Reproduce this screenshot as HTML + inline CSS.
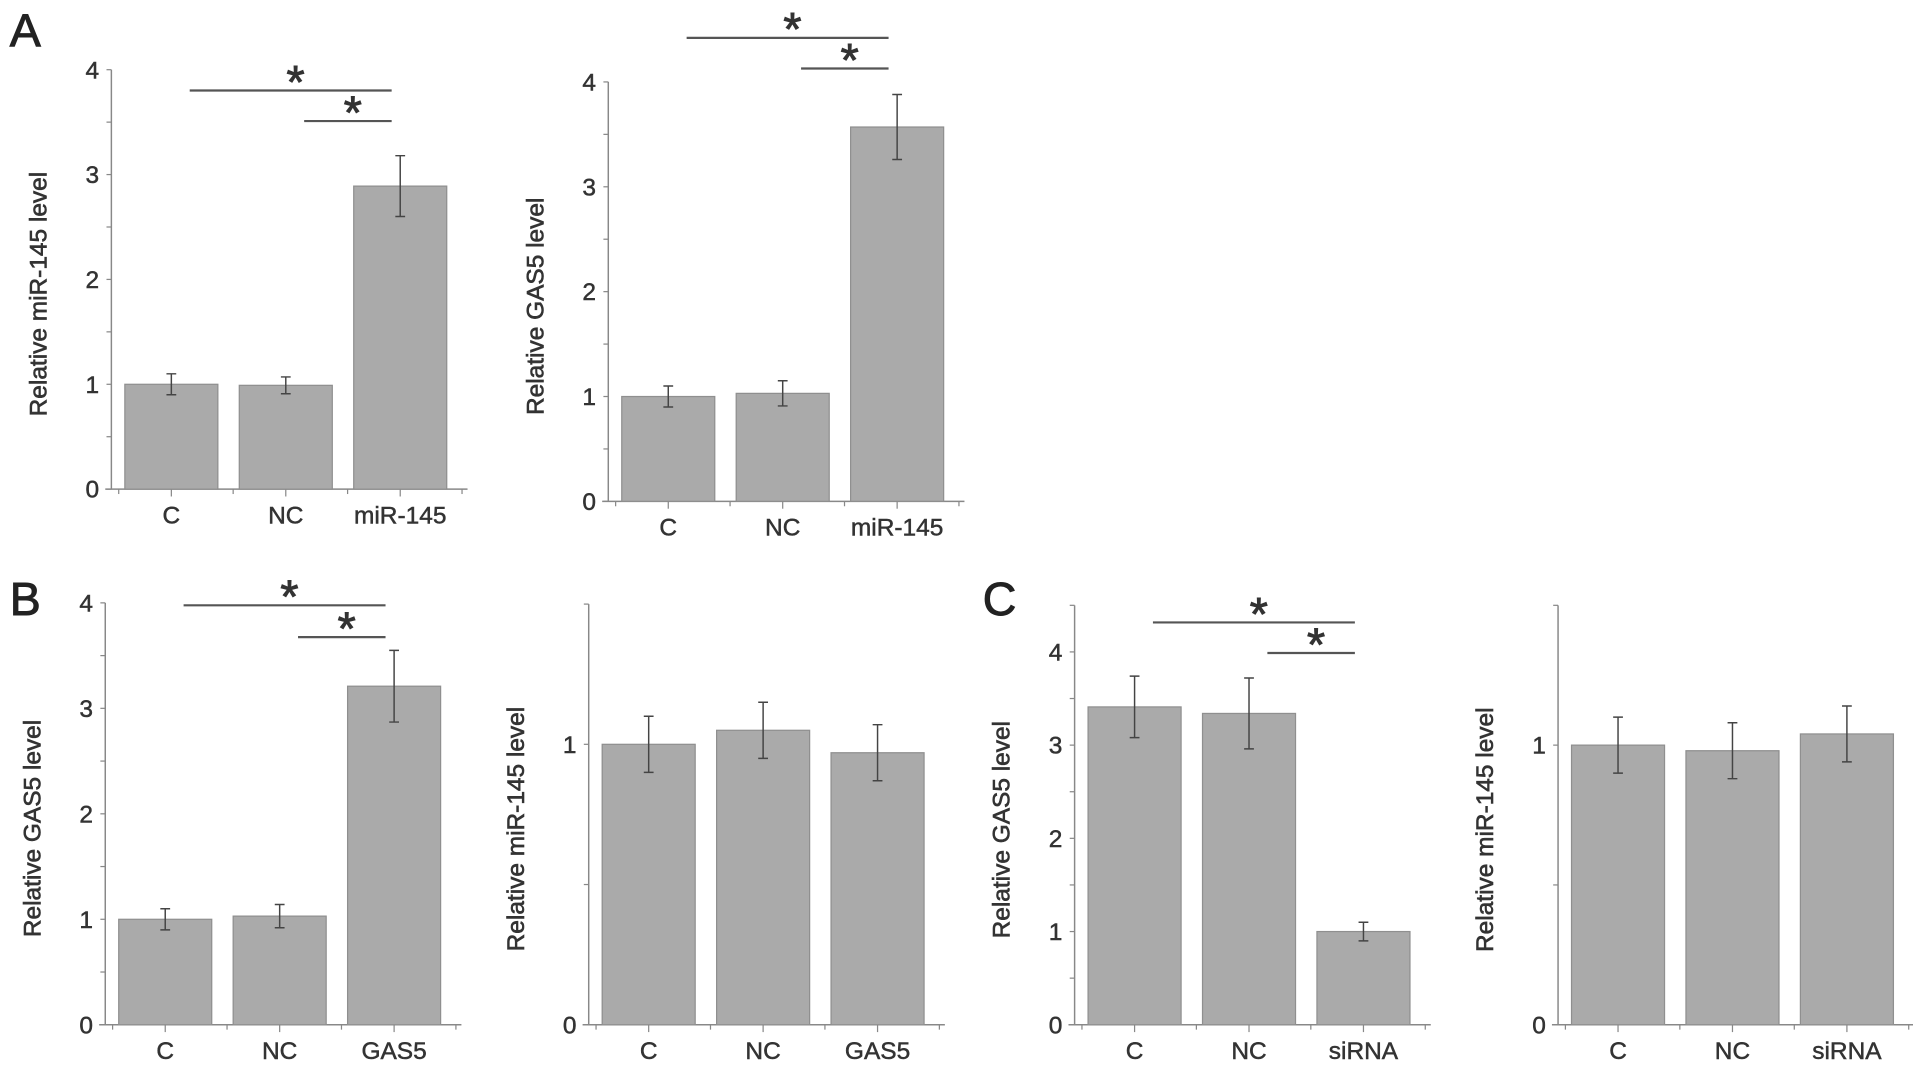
<!DOCTYPE html>
<html><head><meta charset="utf-8">
<style>
html,body{margin:0;padding:0;background:#fff;}
svg{display:block;}
text{font-family:"Liberation Sans",Arial,sans-serif;}
</style></head>
<body>
<svg id="fig" width="1913" height="1070" viewBox="0 0 1563 875" preserveAspectRatio="none" xmlns="http://www.w3.org/2000/svg">
<text x="8" y="38" font-size="38" fill="#222" stroke="#222" stroke-width="0.8">A</text>
<text x="8" y="503" font-size="38" fill="#222" stroke="#222" stroke-width="0.8">B</text>
<text x="803" y="503" font-size="38" fill="#222" stroke="#222" stroke-width="0.8">C</text>
</svg>
<script>
// ---- data ----
const catsA1 = ["C","NC","miR-145"];
const valsA1 = [1.0, 0.99, 2.89];
const errsA1 = [0.10, 0.08, 0.29];
const catsA2 = ["C","NC","miR-145"];
const valsA2 = [1.0, 1.03, 3.57];
const errsA2 = [0.10, 0.12, 0.31];
const catsB1 = ["C","NC","GAS5"];
const valsB1 = [1.0, 1.03, 3.21];
const errsB1 = [0.10, 0.11, 0.34];
const catsB2 = ["C","NC","GAS5"];
const valsB2 = [1.0, 1.05, 0.97];
const errsB2 = [0.10, 0.10, 0.10];
const catsC1 = ["C","NC","siRNA"];
const valsC1 = [3.41, 3.34, 1.0];
const errsC1 = [0.33, 0.38, 0.10];
const catsC2 = ["C","NC","siRNA"];
const valsC2 = [1.0, 0.98, 1.04];
const errsC2 = [0.10, 0.10, 0.10];
const ticks4 = [0,1,2,3,4];
const ticks01 = [0,1];

const NS="http://www.w3.org/2000/svg";
const svg=document.getElementById('fig');
function mk(tag,attrs,parent){const e=document.createElementNS(NS,tag);for(const k in attrs)e.setAttribute(k,attrs[k]);(parent||svg).appendChild(e);return e;}

function chart(id,cfg){
  const g=mk('g',{});
  
  
  const y=v=>cfg.y0-(v/cfg.ymax)*(cfg.y0-cfg.ytop);
  const bw=76, step=93.5;
  const xc=i=>cfg.ax+11+bw/2+i*step;
  const xend=cfg.ax+291;
  const ya=mk('line',{x1:cfg.ax,y1:cfg.ytop,x2:cfg.ax,y2:cfg.y0,stroke:'#888','stroke-width':1.2},g);
  
  
  const xa=mk('line',{x1:cfg.ax-5,y1:cfg.y0,x2:xend,y2:cfg.y0,stroke:'#888','stroke-width':1.2},g);
  
  
  for(let v=0;v<=cfg.ymax+1e-9;v+=cfg.minor){
    mk('line',{x1:cfg.ax-4,y1:y(v),x2:cfg.ax,y2:y(v),stroke:'#888','stroke-width':1},g);
  }
  cfg.ticks.forEach(t=>{
    const tl=mk('text',{x:cfg.ax-10,y:y(t)+7,'font-size':20,'text-anchor':'end',fill:'#333',stroke:'#333','stroke-width':0.4},g);
    tl.textContent=t;
    
    
  });
  for(let i=0;i<=3;i++){
    const xx=cfg.ax+6+i*step;
    mk('line',{x1:xx,y1:cfg.y0,x2:xx,y2:cfg.y0+4,stroke:'#888','stroke-width':1},g);
  }
  const yt=mk('text',{x:0,y:0,'font-size':20,'text-anchor':'middle',fill:'#333',stroke:'#333','stroke-width':0.5,transform:`translate(${cfg.ax-53},${(cfg.y0+cfg.ytop)/2+12}) rotate(-90)`},g);
  yt.textContent=cfg.ylabel;
  
  
  cfg.cats.forEach((c,i)=>{
    const b=mk('rect',{x:xc(i)-bw/2,y:y(cfg.vals[i]),width:bw,height:cfg.y0-y(cfg.vals[i]),fill:'#aaaaaa',stroke:'#8f8f8f','stroke-width':1},g);
    
    
    const hi=y(cfg.vals[i]+cfg.errs[i]), lo=y(cfg.vals[i]-cfg.errs[i]);
    const eb=mk('path',{d:`M${xc(i)},${hi}V${lo}M${xc(i)-4},${hi}H${xc(i)+4}M${xc(i)-4},${lo}H${xc(i)+4}`,stroke:'#444','stroke-width':1.2,fill:'none'},g);
    
    
    mk('line',{x1:xc(i),y1:cfg.y0,x2:xc(i),y2:cfg.y0+6,stroke:'#888','stroke-width':1},g);
    const cl=mk('text',{x:xc(i),y:cfg.y0+28,'font-size':20,'text-anchor':'middle',fill:'#333',stroke:'#333','stroke-width':0.4},g);
    cl.textContent=c;
    
    
  });
  if(cfg.sig){
    cfg.sig.forEach(s=>{
      const x1=xc(s[0])+15, x2=xc(2)-7;
      const ln=mk('line',{x1:x1,y1:s[1],x2:x2,y2:s[1],stroke:'#555','stroke-width':1.8},g);
      
      
      const st=mk('text',{x:(x1+x2)/2+4,y:s[1]+6,'font-size':38,'text-anchor':'middle',fill:'#333',stroke:'#333','stroke-width':0.8},g);
      st.textContent='*';
      
      
    });
  }
}
chart('chart-a-mir145',{ax:91,y0:400,ytop:57,ymax:4,minor:0.5,ticks:ticks4,cats:catsA1,vals:valsA1,errs:errsA1,ylabel:'Relative miR-145 level',sig:[[0,74],[1,99]]});
chart('chart-a-gas5',{ax:497,y0:410,ytop:67,ymax:4,minor:0.5,ticks:ticks4,cats:catsA2,vals:valsA2,errs:errsA2,ylabel:'Relative GAS5 level',sig:[[0,31],[1,56]]});
chart('chart-b-gas5',{ax:86,y0:838,ytop:493,ymax:4,minor:0.5,ticks:ticks4,cats:catsB1,vals:valsB1,errs:errsB1,ylabel:'Relative GAS5 level',sig:[[0,495],[1,521]]});
chart('chart-b-mir145',{ax:481,y0:838,ytop:494,ymax:1.5,minor:0.5,ticks:ticks01,cats:catsB2,vals:valsB2,errs:errsB2,ylabel:'Relative miR-145 level'});
chart('chart-c-gas5',{ax:878,y0:838,ytop:495,ymax:4.5,minor:0.5,ticks:ticks4,cats:catsC1,vals:valsC1,errs:errsC1,ylabel:'Relative GAS5 level',sig:[[0,509],[1,534]]});
chart('chart-c-mir145',{ax:1273,y0:838,ytop:495,ymax:1.5,minor:0.5,ticks:ticks01,cats:catsC2,vals:valsC2,errs:errsC2,ylabel:'Relative miR-145 level'});
</script>
</body></html>
